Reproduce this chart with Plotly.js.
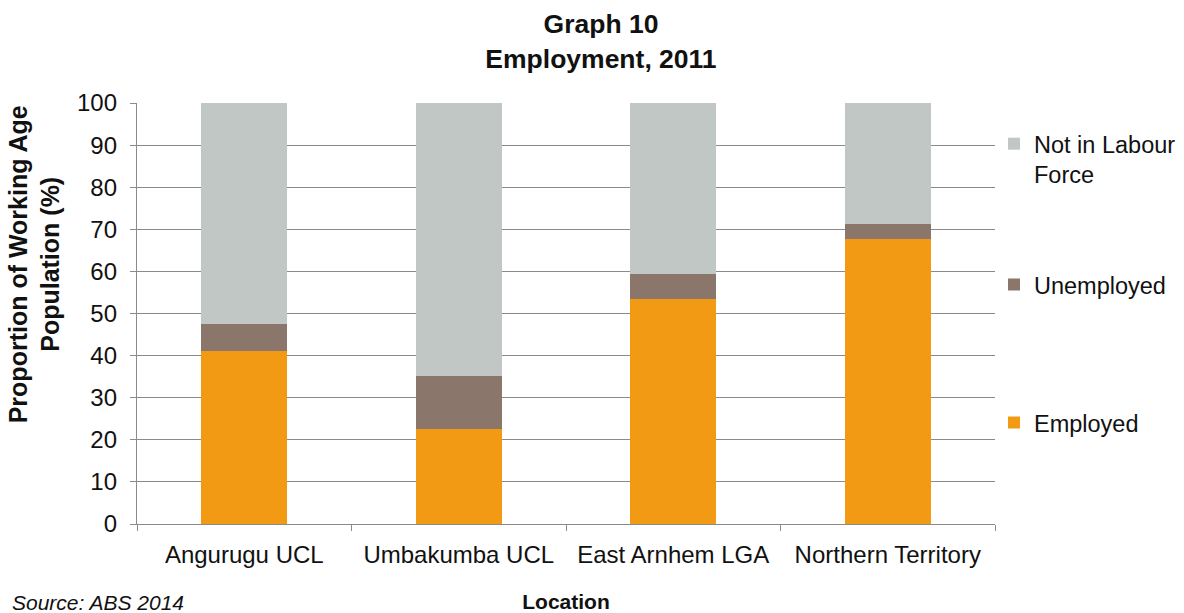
<!DOCTYPE html>
<html>
<head>
<meta charset="utf-8">
<script src="https://cdn.plot.ly/plotly-3.0.1.min.js"></script>
<style>html,body{margin:0;padding:0;background:#fff;}#chart{width:1184px;height:613px;}</style>
</head>
<body>
<div id="chart"></div>
<script>
const locations = ['Angurugu UCL', 'Umbakumba UCL', 'East Arnhem LGA', 'Northern Territory'];
const employed = [41.2, 22.5, 53.4, 67.6];
const unemployed = [6.2, 12.6, 5.9, 3.7];
const notInLabourForce = [52.6, 64.9, 40.7, 28.7];
const yTicks = [0, 10, 20, 30, 40, 50, 60, 70, 80, 90, 100];

const FONT = 'Liberation Sans, Arial, sans-serif';
const TXT = '#111111';
const GRID = '#8a8a8a';

const traces = [
  {type: 'bar', name: 'Employed', x: locations, y: employed,
   marker: {color: '#F29A13'}, legend: 'legend3', hoverinfo: 'x+y+name'},
  {type: 'bar', name: 'Unemployed', x: locations, y: unemployed,
   marker: {color: '#8A766A'}, legend: 'legend2', hoverinfo: 'x+y+name'},
  {type: 'bar', name: 'Not in Labour<br>Force', x: locations, y: notInLabourForce,
   marker: {color: '#C1C7C4'}, legend: 'legend', hoverinfo: 'x+y+name'}
];

const legendBase = {xref: 'container', yref: 'paper', x: 994 / 1184, xanchor: 'left', yanchor: 'middle',
  font: {family: FONT, size: 23.5, color: TXT}, bgcolor: 'rgba(0,0,0,0)', borderwidth: 0,
  itemwidth: 30, valign: 'top', itemclick: false, itemdoubleclick: false};

const layout = {
  width: 1184, height: 613,
  margin: {l: 137.3, r: 188.7, t: 103.3, b: 88.7, pad: 0, autoexpand: false},
  paper_bgcolor: '#ffffff', plot_bgcolor: '#ffffff',
  font: {family: FONT, size: 24, color: TXT},
  barmode: 'stack', bargap: 0.6,
  title: {text: 'Graph 10<br>Employment, 2011', font: {family: FONT, size: 26.5, color: TXT, weight: 'bold'},
          xref: 'container', yref: 'container', x: 0.5076, xanchor: 'center', y: 0.9455, yanchor: 'middle'},
  xaxis: {type: 'category', showgrid: false, showline: true, linecolor: GRID, linewidth: 1.3,
          ticks: 'outside', tickson: 'boundaries', ticklen: 6, tickcolor: GRID, tickwidth: 1.3,
          tickfont: {family: FONT, size: 24, color: TXT}, ticklabelstandoff: 9, fixedrange: true,
          title: {text: 'Location', font: {family: FONT, size: 21, color: TXT, weight: 'bold'}, standoff: 40}},
  yaxis: {range: [0, 100], tickvals: yTicks, showgrid: true, gridcolor: GRID, gridwidth: 1.3,
          showline: true, linecolor: GRID, linewidth: 1.3, ticks: 'outside', ticklen: 6,
          tickcolor: GRID, tickwidth: 1.3, tickfont: {family: FONT, size: 24, color: TXT},
          ticklabelstandoff: 8, zeroline: false, fixedrange: true},
  legend: Object.assign({}, legendBase, {y: 0.866}),
  legend2: Object.assign({}, legendBase, {y: 0.5684}),
  legend3: Object.assign({}, legendBase, {y: 0.2406}),
  showlegend: true,
  annotations: [
    {text: 'Proportion of Working Age<br>Population (%)', textangle: -90, xref: 'paper', yref: 'paper',
     x: -0.1193, y: 0.616, xanchor: 'center', yanchor: 'middle', showarrow: false,
     font: {family: FONT, size: 25, color: TXT, weight: 'bold'}},
    {text: 'Source: ABS 2014', xref: 'paper', yref: 'paper', x: -0.1476, y: -0.187,
     xanchor: 'left', yanchor: 'middle', showarrow: false,
     font: {family: FONT, size: 21, color: TXT, style: 'italic'}}
  ]
};

Plotly.newPlot('chart', traces, layout, {displayModeBar: false});
</script>
</body>
</html>
